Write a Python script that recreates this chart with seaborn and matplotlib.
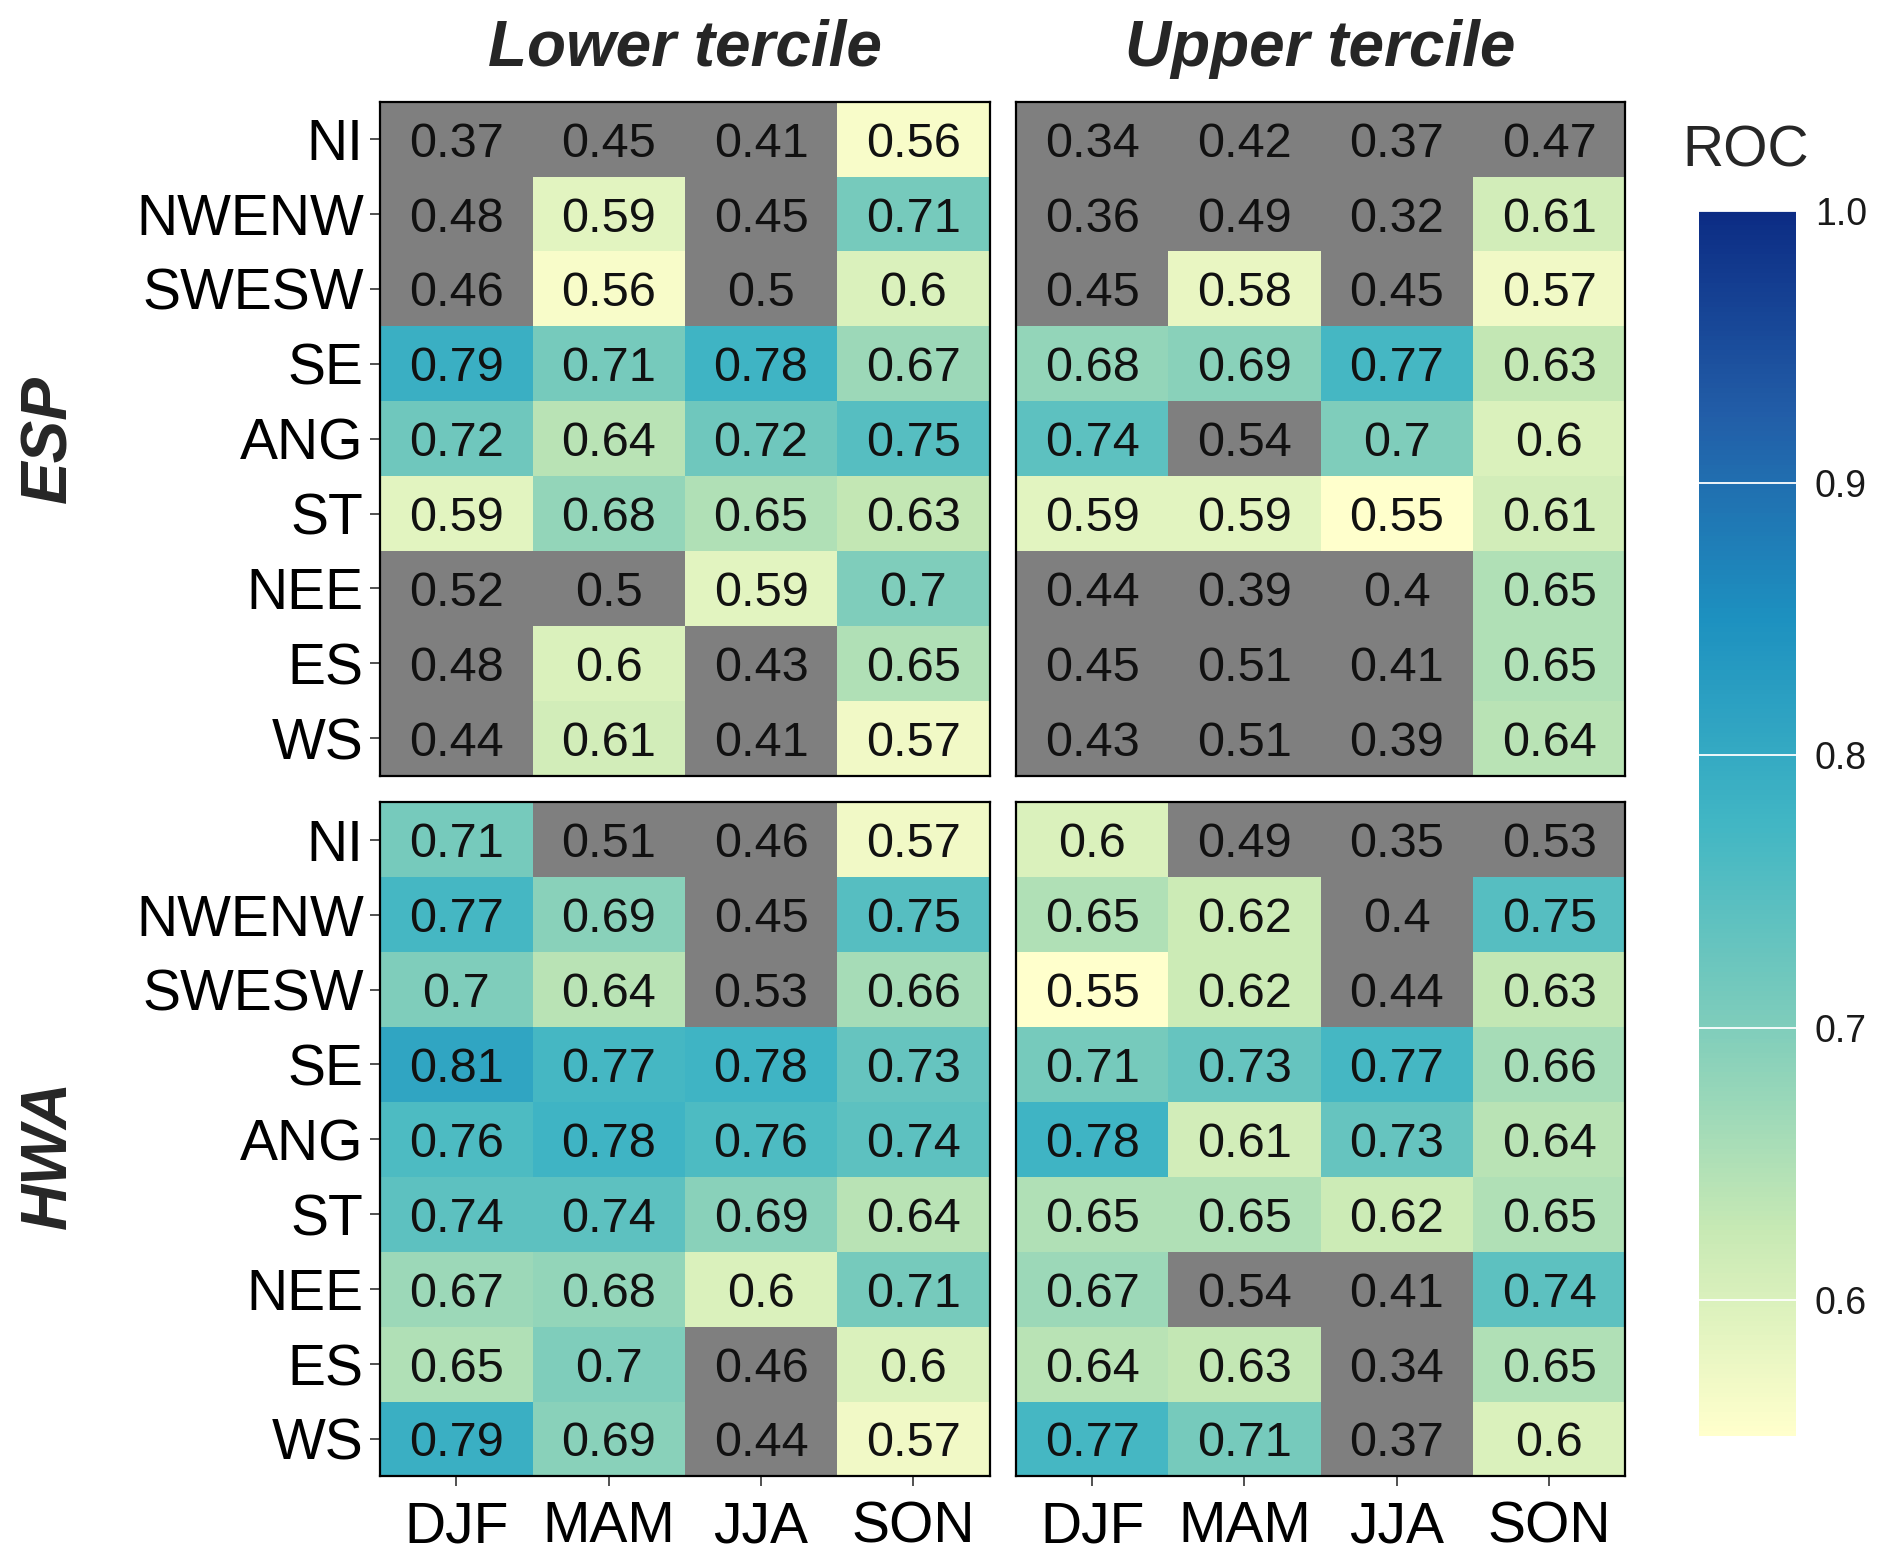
import numpy as np
import pandas as pd
import matplotlib
matplotlib.use("Agg")
import matplotlib.pyplot as plt
from matplotlib.colors import LinearSegmentedColormap
import seaborn as sns

sns.set_style("white")
plt.rcParams['font.family'] = ['Liberation Sans', 'DejaVu Sans']

# data
regions = ['NI', 'NWENW', 'SWESW', 'SE', 'ANG', 'ST', 'NEE', 'ES', 'WS']
seasons = ['DJF', 'MAM', 'JJA', 'SON']

esp_lower = [[0.37, 0.45, 0.41, 0.56],
             [0.48, 0.59, 0.45, 0.71],
             [0.46, 0.56, 0.5, 0.6],
             [0.79, 0.71, 0.78, 0.67],
             [0.72, 0.64, 0.72, 0.75],
             [0.59, 0.68, 0.65, 0.63],
             [0.52, 0.5, 0.59, 0.7],
             [0.48, 0.6, 0.43, 0.65],
             [0.44, 0.61, 0.41, 0.57]]

esp_upper = [[0.34, 0.42, 0.37, 0.47],
             [0.36, 0.49, 0.32, 0.61],
             [0.45, 0.58, 0.45, 0.57],
             [0.68, 0.69, 0.77, 0.63],
             [0.74, 0.54, 0.7, 0.6],
             [0.59, 0.59, 0.55, 0.61],
             [0.44, 0.39, 0.4, 0.65],
             [0.45, 0.51, 0.41, 0.65],
             [0.43, 0.51, 0.39, 0.64]]

hwa_lower = [[0.71, 0.51, 0.46, 0.57],
             [0.77, 0.69, 0.45, 0.75],
             [0.7, 0.64, 0.53, 0.66],
             [0.81, 0.77, 0.78, 0.73],
             [0.76, 0.78, 0.76, 0.74],
             [0.74, 0.74, 0.69, 0.64],
             [0.67, 0.68, 0.6, 0.71],
             [0.65, 0.7, 0.46, 0.6],
             [0.79, 0.69, 0.44, 0.57]]

hwa_upper = [[0.6, 0.49, 0.35, 0.53],
             [0.65, 0.62, 0.4, 0.75],
             [0.55, 0.62, 0.44, 0.63],
             [0.71, 0.73, 0.77, 0.66],
             [0.78, 0.61, 0.73, 0.64],
             [0.65, 0.65, 0.62, 0.65],
             [0.67, 0.54, 0.41, 0.74],
             [0.64, 0.63, 0.34, 0.65],
             [0.77, 0.71, 0.37, 0.6]]

cbar_ticks = [0.6, 0.7, 0.8, 0.9, 1.0]
vmin, vmax = 0.55, 1.0

# 7-class YlGnBu (like ggplot distiller)
ylgnbu7 = ['#ffffcc', '#c7e9b4', '#7fcdbb', '#41b6c4', '#1d91c0', '#225ea8', '#0c2c84']
cmap = LinearSegmentedColormap.from_list('ylgnbu7', ylgnbu7, N=256)
cmap.set_under('#7f7f7f')

fig = plt.figure(figsize=(18.92, 15.64), dpi=100)

panels = [
    (esp_lower, [0.201, 0.504, 0.322, 0.431], 'Lower tercile', True, False),
    (esp_upper, [0.537, 0.504, 0.322, 0.431], 'Upper tercile', False, False),
    (hwa_lower, [0.201, 0.056, 0.322, 0.431], None, True, True),
    (hwa_upper, [0.537, 0.056, 0.322, 0.431], None, False, True),
]

cax = fig.add_axes([0.898, 0.082, 0.051, 0.783])
cb = None

for i, (vals, pos, title, show_y, show_x) in enumerate(panels):
    ax = fig.add_axes(pos)
    df = pd.DataFrame(vals, index=regions, columns=seasons)
    labels = df.map(lambda v: '{:g}'.format(v)).values
    sns.heatmap(df, ax=ax, cmap=cmap, vmin=vmin, vmax=vmax,
                annot=labels, fmt='',
                annot_kws={'color': '#111111', 'fontsize': 35, 'va': 'center_baseline'},
                cbar=(i == 0), cbar_ax=cax if i == 0 else None,
                xticklabels=seasons, yticklabels=regions)
    if i == 0:
        cb = ax.collections[0].colorbar
    for s in ax.spines.values():
        s.set_visible(True)
        s.set_color('black')
        s.set_linewidth(1.6)
    ax.tick_params(axis='both', length=7, width=1.2, color='#333333',
                   labelsize=41, labelcolor='black')
    ax.tick_params(axis='y', left=show_y, labelleft=show_y, rotation=0, pad=5)
    ax.tick_params(axis='x', bottom=show_x, labelbottom=show_x, rotation=0, pad=10)
    for lab in ax.get_yticklabels():
        lab.set_verticalalignment('center_baseline')
    ax.set_xlabel('')
    ax.set_ylabel('')
    if title:
        ax.set_title(title, fontsize=46, fontweight='bold', style='italic', pad=26)

# colorbar
cb.outline.set_visible(False)
cb.set_ticks(cbar_ticks)
cb.set_ticklabels(['{:.1f}'.format(t) for t in cbar_ticks])
cax.tick_params(length=0, labelsize=27, pad=14, labelcolor='#1a1a1a')
for t in cbar_ticks:
    cax.axhline(t, color='white', linewidth=1.3)
fig.text(0.889, 0.903, 'ROC', fontsize=41, ha='left', va='center')

# row labels
fig.text(0.026, 0.719, 'ESP', fontsize=46, fontweight='bold', style='italic',
         rotation=90, ha='center', va='center')
fig.text(0.026, 0.262, 'HWA', fontsize=46, fontweight='bold', style='italic',
         rotation=90, ha='center', va='center')

fig.savefig('out.png', dpi=100)
